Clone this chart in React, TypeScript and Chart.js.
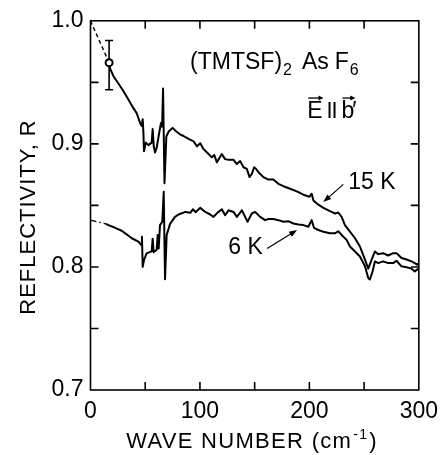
import React, { useEffect, useRef } from "react";
import { Chart, registerables } from "chart.js";
Chart.register(...registerables);

// ---- data (wave number in cm^-1, reflectivity R) ----
const k15X = [17, 18, 21, 25.5, 30, 34.6, 39.2, 42.2, 45.3, 46.8, 47.7, 48.3, 48.9, 50.5, 52.9, 55.9, 56.8, 57.8, 59, 60.5, 62.6, 64.4, 65.4, 66.3, 67.6, 69.3, 71.4, 75, 78.4, 81.4, 85, 89.6, 94.2, 97.3, 100.3, 103.3, 107.9, 110.9, 113, 115.5, 120, 123, 126.1, 130.7, 133.7, 136.8, 139.8, 142.9, 145.3, 147.4, 149.5, 151, 153.5, 158, 162.6, 167.1, 171.7, 176.3, 182.4, 188.5, 194.5, 200, 202.1, 203.7, 208.2, 212.8, 218.8, 223.4, 226.4, 229.5, 232.5, 237.1, 241.7, 246.2, 250.8, 253.8, 256.9, 259.9, 262.9, 267.4, 272, 276.6, 279.6, 284.2, 288.8, 293.3, 296.3, 298.4, 300];
const k15R = [0.966, 0.961, 0.955, 0.949, 0.943, 0.936, 0.929, 0.925, 0.917, 0.9145, 0.92, 0.91, 0.894, 0.901, 0.899, 0.901, 0.912, 0.898, 0.893, 0.897, 0.908, 0.917, 0.914, 0.945, 0.868, 0.906, 0.91, 0.913, 0.91, 0.908, 0.9064, 0.904, 0.902, 0.898, 0.9005, 0.8957, 0.8917, 0.889, 0.891, 0.885, 0.8917, 0.8876, 0.887, 0.887, 0.8836, 0.886, 0.881, 0.8796, 0.873, 0.8755, 0.881, 0.88, 0.877, 0.873, 0.871, 0.871, 0.8675, 0.8656, 0.8635, 0.8614, 0.8587, 0.857, 0.8595, 0.854, 0.8506, 0.848, 0.8453, 0.8434, 0.8442, 0.8407, 0.834, 0.8287, 0.8233, 0.8166, 0.806, 0.7986, 0.806, 0.8126, 0.8104, 0.8112, 0.8093, 0.8112, 0.8112, 0.8072, 0.806, 0.8045, 0.8031, 0.8018, 0.803];

const k6X = [14, 16.4, 22, 28.5, 33, 37.7, 43.8, 46.2, 47, 47.7, 49, 51.3, 55.9, 56.8, 57.7, 60.5, 61.4, 62.3, 63.5, 65.6, 66.9, 68.1, 69.6, 72.7, 77.2, 80.5, 86.6, 91.2, 93.6, 96, 100.3, 104.9, 109.4, 112.4, 116, 120, 123, 126.1, 130.7, 133.7, 138.3, 141.3, 143.5, 147.4, 150.5, 155, 159.6, 162.6, 167.1, 171.7, 176.3, 180.8, 185.4, 190, 194.5, 199, 202.1, 204.2, 208.2, 212.8, 218.8, 223.4, 226.4, 229.5, 234, 237.1, 241.7, 246.2, 250.8, 253.8, 255.3, 257.8, 259.9, 262.9, 267.4, 272, 276.6, 279.6, 284.2, 288.8, 293.3, 296.3, 298.4, 300];
const k6R = [0.835, 0.834, 0.832, 0.8294, 0.8265, 0.8233, 0.8206, 0.818, 0.8246, 0.8, 0.806, 0.811, 0.8126, 0.823, 0.812, 0.814, 0.826, 0.815, 0.834, 0.8367, 0.861, 0.79, 0.826, 0.835, 0.8407, 0.8426, 0.8447, 0.844, 0.8469, 0.8445, 0.848, 0.8447, 0.8426, 0.8407, 0.844, 0.8469, 0.842, 0.846, 0.8447, 0.8407, 0.846, 0.8407, 0.8367, 0.8434, 0.8447, 0.8407, 0.838, 0.8389, 0.8389, 0.838, 0.8367, 0.8372, 0.8353, 0.8345, 0.834, 0.8327, 0.838, 0.8318, 0.83, 0.8286, 0.8273, 0.8273, 0.829, 0.826, 0.822, 0.8166, 0.8126, 0.8085, 0.8005, 0.791, 0.7898, 0.7964, 0.8045, 0.8031, 0.8045, 0.8031, 0.8031, 0.805, 0.8005, 0.7997, 0.7986, 0.7964, 0.7978, 0.7986];

// extrapolations to zero frequency
const k15ExtX = [0, 17];
const k15ExtR = [1.0, 0.966];
const k6ExtX = [0, 14];
const k6ExtR = [0.838, 0.835];

// measured point with error bar
const errX = [17];
const errR = [0.966];
const errLo = [0.944];
const errHi = [0.984];

const xTicks = [0, 100, 200, 300];
const yTicks = [0.7, 0.8, 0.9, 1.0];

const FONT = "'Liberation Sans', Arial, sans-serif";

const pts = (xs: number[], ys: number[]) => xs.map((x, i) => ({ x, y: ys[i] }));

function arrow(ctx: CanvasRenderingContext2D, x1: number, y1: number, x2: number, y2: number, head = 8, hw = 3) {
  const ang = Math.atan2(y2 - y1, x2 - x1);
  ctx.beginPath();
  ctx.moveTo(x1, y1);
  ctx.lineTo(x2 - Math.cos(ang) * head * 0.6, y2 - Math.sin(ang) * head * 0.6);
  ctx.stroke();
  ctx.beginPath();
  ctx.moveTo(x2, y2);
  ctx.lineTo(x2 - Math.cos(ang) * head - Math.sin(ang) * hw, y2 - Math.sin(ang) * head + Math.cos(ang) * hw);
  ctx.lineTo(x2 - Math.cos(ang) * head + Math.sin(ang) * hw, y2 - Math.sin(ang) * head - Math.cos(ang) * hw);
  ctx.closePath();
  ctx.fill();
}

const framePlugin = {
  id: "frame",
  beforeDatasetsDraw(chart: any) {
    const { ctx, scales } = chart;
    const x = scales.x, y = scales.y;
    ctx.save();
    ctx.strokeStyle = "#000";
    ctx.lineWidth = 1.6;
    errX.forEach((v, i) => {
      const px = x.getPixelForValue(v);
      const p1 = y.getPixelForValue(errLo[i]);
      const p2 = y.getPixelForValue(errHi[i]);
      ctx.beginPath();
      ctx.moveTo(px, p1); ctx.lineTo(px, p2);
      ctx.moveTo(px - 4, p1); ctx.lineTo(px + 4, p1);
      ctx.moveTo(px - 4, p2); ctx.lineTo(px + 4, p2);
      ctx.stroke();
    });
    ctx.restore();
  },
  afterDatasetsDraw(chart: any) {
    const { ctx, chartArea: a, scales } = chart;
    const x = scales.x, y = scales.y;
    ctx.save();
    ctx.strokeStyle = "#000";
    ctx.fillStyle = "#000";
    ctx.lineWidth = 1.6;
    ctx.strokeRect(a.left, a.top, a.right - a.left, a.bottom - a.top);
    const L = 8;
    ctx.beginPath();
    for (let v = 50; v < 300; v += 50) {
      const px = x.getPixelForValue(v);
      ctx.moveTo(px, a.bottom); ctx.lineTo(px, a.bottom - L);
      ctx.moveTo(px, a.top); ctx.lineTo(px, a.top + L);
    }
    for (let k = 1; k < 6; k++) {
      const py = y.getPixelForValue(0.7 + k * 0.05);
      ctx.moveTo(a.left, py); ctx.lineTo(a.left + L, py);
      ctx.moveTo(a.right, py); ctx.lineTo(a.right - L, py);
    }
    ctx.stroke();

    // annotations
    ctx.textBaseline = "alphabetic";
    ctx.textAlign = "left";
    const big = `23px ${FONT}`;
    const small = `16px ${FONT}`;
    // (TMTSF)2 AsF6
    let tx = x.getPixelForValue(91);
    let ty = y.getPixelForValue(0.961);
    ctx.font = big;
    ctx.fillText("(TMTSF)", tx, ty);
    tx += ctx.measureText("(TMTSF)").width + 1;
    ctx.font = small;
    ctx.fillText("2", tx, ty + 6);
    tx += ctx.measureText("2").width + 10;
    ctx.font = big;
    ctx.fillText("As", tx, ty);
    tx += ctx.measureText("As").width + 6;
    ctx.fillText("F", tx, ty);
    tx += ctx.measureText("F").width + 1;
    ctx.font = small;
    ctx.fillText("6", tx, ty + 6);

    // E || b'
    ctx.font = big;
    tx = x.getPixelForValue(198);
    ty = y.getPixelForValue(0.921);
    ctx.fillText("E", tx, ty);
    const eW = ctx.measureText("E").width;
    ctx.lineWidth = 1.3;
    arrow(ctx, tx + 1, ty - 20, tx + eW + 1, ty - 20, 5, 2.5);
    let bx = tx + eW + 7;
    ctx.lineWidth = 2;
    ctx.beginPath();
    ctx.moveTo(bx, ty - 16); ctx.lineTo(bx, ty);
    ctx.moveTo(bx + 5, ty - 16); ctx.lineTo(bx + 5, ty);
    ctx.stroke();
    bx += 12;
    ctx.fillText("b", bx, ty);
    const bW = ctx.measureText("b").width;
    ctx.fillText("\u2032", bx + bW - 2, ty);
    ctx.lineWidth = 1.3;
    arrow(ctx, bx + 1, ty - 20, bx + bW + 1, ty - 20, 5, 2.5);

    // 15 K label + arrow
    ctx.font = big;
    ctx.fillText("15 K", x.getPixelForValue(235.5), y.getPixelForValue(0.8631));
    ctx.lineWidth = 1.2;
    arrow(ctx, x.getPixelForValue(231), y.getPixelForValue(0.8671), x.getPixelForValue(212.7), y.getPixelForValue(0.8527));
    // 6 K label + arrow
    ctx.textAlign = "right";
    ctx.fillText("6 K", x.getPixelForValue(157.5), y.getPixelForValue(0.8102));
    arrow(ctx, x.getPixelForValue(161.4), y.getPixelForValue(0.815), x.getPixelForValue(188.8), y.getPixelForValue(0.83));

    // axis titles
    ctx.textAlign = "left";
    const tf = `22px ${FONT}`;
    const sf = `14px ${FONT}`;
    const p1 = "WAVE NUMBER (cm";
    const p2 = "-1";
    const p3 = ")";
    (ctx as any).letterSpacing = "1.3px";
    ctx.font = tf;
    const w1 = ctx.measureText(p1).width;
    const w3 = ctx.measureText(p3).width;
    ctx.font = sf;
    const w2 = ctx.measureText(p2).width;
    const sx = 252 - (w1 + w2 + w3 + 2) / 2;
    const sy = 448;
    ctx.font = tf;
    ctx.fillText(p1, sx, sy);
    ctx.font = sf;
    ctx.fillText(p2, sx + w1 + 1, sy - 9);
    ctx.font = tf;
    ctx.fillText(p3, sx + w1 + w2 + 2, sy);

    ctx.save();
    (ctx as any).letterSpacing = "1px";
    ctx.translate(35, 217);
    ctx.rotate(-Math.PI / 2);
    ctx.textAlign = "center";
    ctx.font = tf;
    ctx.fillText("REFLECTIVITY, R", 0, 0);
    ctx.restore();

    ctx.restore();
  },
};

export default function App() {
  const ref = useRef<HTMLCanvasElement>(null);
  useEffect(() => {
    if (!ref.current) return;
    const lineDs = (data: any, dash: number[] = []) => ({
      type: "line" as const,
      data,
      borderColor: "#000",
      borderWidth: dash.length ? 1.4 : 2,
      borderDash: dash,
      borderJoinStyle: "round" as const,
      pointRadius: 0,
      tension: 0,
      fill: false,
    });
    const chart = new Chart(ref.current, {
      type: "line",
      data: {
        datasets: [
          {
            type: "scatter",
            data: pts(errX, errR),
            pointRadius: 3.5,
            pointBackgroundColor: "#fff",
            pointBorderColor: "#000",
            pointBorderWidth: 2,
            showLine: false,
          } as any,
          lineDs(pts(k15X, k15R)),
          lineDs(pts(k6X, k6R)),
          lineDs(pts(k15ExtX, k15ExtR), [4, 3]),
          lineDs(pts(k6ExtX, k6ExtR), [6, 3, 1.5, 3]),
        ],
      },
      options: {
        animation: false,
        responsive: false,
        events: [],
        layout: { padding: { top: 16, right: 27, left: 0, bottom: 0 } },
        plugins: { legend: { display: false }, tooltip: { enabled: false } },
        scales: {
          x: {
            type: "linear",
            min: 0,
            max: 300,
            afterBuildTicks: (s: any) => { s.ticks = xTicks.map((v) => ({ value: v })); },
            grid: { display: false, drawTicks: false },
            border: { display: false },
            ticks: { color: "#000", font: { size: 23, family: FONT }, padding: 8, maxRotation: 0, autoSkip: false },
            afterFit: (s: any) => { s.height = 65; },
          },
          y: {
            type: "linear",
            min: 0.7,
            max: 1.0,
            afterBuildTicks: (s: any) => { s.ticks = yTicks.map((v) => ({ value: v })); },
            grid: { display: false, drawTicks: false },
            border: { display: false },
            ticks: { color: "#000", font: { size: 23, family: FONT }, padding: 7, callback: (v: any) => Number(v).toFixed(1), autoSkip: false },
            afterFit: (s: any) => { s.width = 90.5; },
          },
        },
      },
      plugins: [framePlugin],
    });
    return () => chart.destroy();
  }, []);
  return (
    <div style={{ position: "fixed", left: 0, top: 0, width: 446, height: 455, background: "#fff" }}>
      <canvas ref={ref} width={446} height={455} style={{ display: "block" }} />
    </div>
  );
}
